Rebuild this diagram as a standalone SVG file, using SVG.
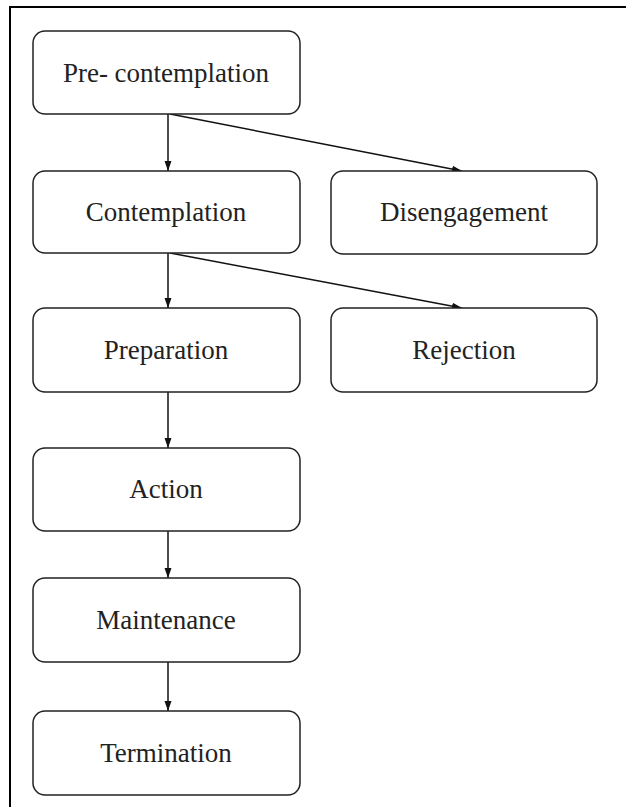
<svg xmlns="http://www.w3.org/2000/svg" width="626" height="807" viewBox="0 0 626 807">
<defs>
<style>
.box{fill:#fff;stroke:#222;stroke-width:1.5}
.lbl{font-family:"Liberation Serif","Times New Roman",serif;font-size:27px;fill:#222;text-anchor:middle}
.edge{stroke:#111;stroke-width:1.5;fill:none}
</style>
<marker id="arr" viewBox="0 0 10 10" refX="10" refY="5" markerWidth="10" markerHeight="10" orient="auto" markerUnits="userSpaceOnUse">
<path d="M0,1.5 L10,5 L0,8.5 Z" fill="#111"/>
</marker>
</defs>
<rect width="626" height="807" fill="#fff"/>
<path d="M10,807 L10,7 L626,7" fill="none" stroke="#000" stroke-width="2"/>
<g id="connectors">
<line class="edge" x1="168" y1="114" x2="168" y2="171" marker-end="url(#arr)"/>
<line class="edge" x1="170" y1="114" x2="462" y2="171" marker-end="url(#arr)"/>
<line class="edge" x1="168" y1="253" x2="168" y2="308" marker-end="url(#arr)"/>
<line class="edge" x1="170" y1="253" x2="462" y2="308" marker-end="url(#arr)"/>
<line class="edge" x1="168" y1="392" x2="168" y2="448" marker-end="url(#arr)"/>
<line class="edge" x1="168" y1="531" x2="168" y2="578" marker-end="url(#arr)"/>
<line class="edge" x1="168" y1="662" x2="168" y2="711" marker-end="url(#arr)"/>
</g>
<g id="precontemplation"><rect class="box" x="33" y="31" width="267" height="83" rx="12"/><text class="lbl" x="166" y="82">Pre- contemplation</text></g>
<g id="contemplation"><rect class="box" x="33" y="171" width="267" height="82" rx="12"/><text class="lbl" x="166" y="221">Contemplation</text></g>
<g id="disengagement"><rect class="box" x="331" y="171" width="266" height="83" rx="12"/><text class="lbl" x="464" y="221">Disengagement</text></g>
<g id="preparation"><rect class="box" x="33" y="308" width="267" height="84" rx="12"/><text class="lbl" x="166" y="359">Preparation</text></g>
<g id="rejection"><rect class="box" x="331" y="308" width="266" height="84" rx="12"/><text class="lbl" x="464" y="359">Rejection</text></g>
<g id="action"><rect class="box" x="33" y="448" width="267" height="83" rx="12"/><text class="lbl" x="166" y="498">Action</text></g>
<g id="maintenance"><rect class="box" x="33" y="578" width="267" height="84" rx="12"/><text class="lbl" x="166" y="629">Maintenance</text></g>
<g id="termination"><rect class="box" x="33" y="711" width="267" height="84" rx="12"/><text class="lbl" x="166" y="762">Termination</text></g>
</svg>
